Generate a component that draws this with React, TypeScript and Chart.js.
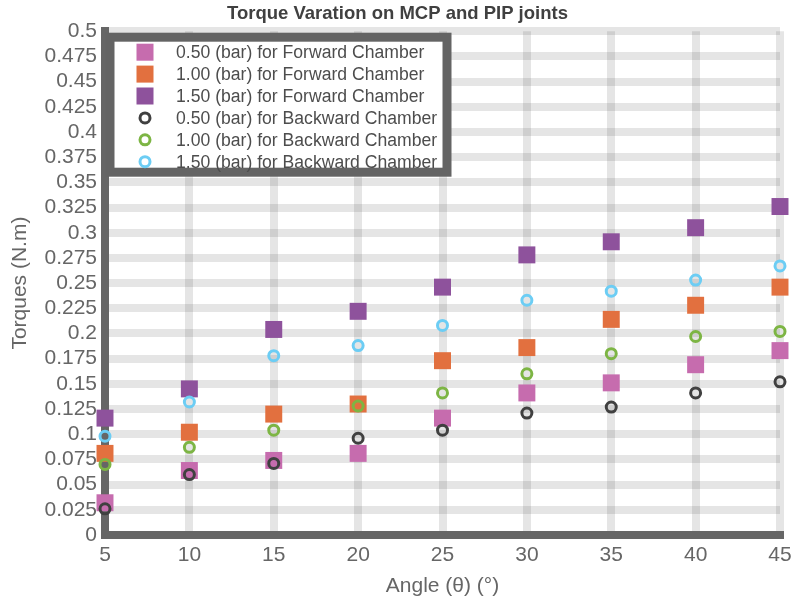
import React, { useEffect, useRef } from "react";
import { Chart, registerables } from "chart.js";

Chart.register(...registerables);

const angles = [5, 10, 15, 20, 25, 30, 35, 40, 45];
const fwd050 = [0.032, 0.064, 0.074, 0.081, 0.116, 0.141, 0.151, 0.169, 0.183];
const fwd100 = [0.081, 0.102, 0.12, 0.13, 0.173, 0.186, 0.214, 0.228, 0.246];
const fwd150 = [0.116, 0.145, 0.204, 0.222, 0.246, 0.278, 0.291, 0.305, 0.326];
const bwd050 = [0.026, 0.06, 0.071, 0.096, 0.104, 0.121, 0.127, 0.141, 0.152];
const bwd100 = [0.07, 0.087, 0.104, 0.128, 0.141, 0.16, 0.18, 0.197, 0.202];
const bwd150 = [0.098, 0.132, 0.178, 0.188, 0.208, 0.233, 0.242, 0.253, 0.267];

const seriesLabels = [
  "0.50 (bar) for Forward Chamber",
  "1.00 (bar) for Forward Chamber",
  "1.50 (bar) for Forward Chamber",
  "0.50 (bar) for Backward Chamber",
  "1.00 (bar) for Backward Chamber",
  "1.50 (bar) for Backward Chamber",
];
const xTickLabels = ["5", "10", "15", "20", "25", "30", "35", "40", "45"];
const yTickLabels = [
  "0", "0.025", "0.05", "0.075", "0.1", "0.125", "0.15", "0.175", "0.2", "0.225",
  "0.25", "0.275", "0.3", "0.325", "0.35", "0.375", "0.4", "0.425", "0.45", "0.475", "0.5",
];

const FONT = "'Liberation Sans', Arial, Helvetica, sans-serif";

const legendBoxPlugin = {
  id: "legendBox",
  afterDraw(chart: any) {
    const ctx = chart.ctx;
    const ca = chart.chartArea;
    const x0 = ca.left + 5;
    const y0 = ca.top + 6;
    const w = 337;
    const h = 135;
    ctx.save();
    ctx.fillStyle = "#ffffff";
    ctx.fillRect(x0, y0, w, h);
    ctx.lineWidth = 9;
    ctx.strokeStyle = "#646464";
    ctx.strokeRect(x0, y0, w, h);
    ctx.font = `17.6px ${FONT}`;
    ctx.textBaseline = "middle";
    ctx.textAlign = "left";
    chart.data.datasets.forEach((ds: any, i: number) => {
      const cy = y0 + 15 + i * 21.9;
      const cx = x0 + 35;
      if (ds.pointStyle === "rect") {
        ctx.fillStyle = ds.backgroundColor;
        ctx.fillRect(cx - 8.5, cy - 8.5, 17, 17);
      } else {
        ctx.beginPath();
        ctx.arc(cx, cy, ds.pointRadius, 0, Math.PI * 2);
        ctx.lineWidth = ds.borderWidth;
        ctx.strokeStyle = ds.borderColor;
        ctx.stroke();
      }
      ctx.fillStyle = "#4d4d4d";
      ctx.fillText(ds.label, x0 + 66, cy + 1);
    });
    ctx.restore();
  },
};

function pts(ys: number[]) {
  return angles.map((x, i) => ({ x, y: ys[i] }));
}

export default function App() {
  const ref = useRef<HTMLCanvasElement | null>(null);
  useEffect(() => {
    if (!ref.current) return;
    const sq = (label: string, ys: number[], color: string) => ({
      label,
      data: pts(ys),
      pointStyle: "rect",
      pointRadius: 12,
      pointHoverRadius: 12,
      backgroundColor: color,
      borderColor: color,
      borderWidth: 0,
      showLine: false,
      clip: false,
      order: 1,
    });
    const ring = (label: string, ys: number[], color: string) => ({
      label,
      data: pts(ys),
      pointStyle: "circle",
      pointRadius: 5,
      pointHoverRadius: 5,
      backgroundColor: "rgba(0,0,0,0)",
      borderColor: color,
      borderWidth: 3,
      showLine: false,
      clip: false,
      order: 0,
    });
    const chart = new Chart(ref.current, {
      type: "scatter",
      data: {
        datasets: [
          sq(seriesLabels[0], fwd050, "#c66cae"),
          sq(seriesLabels[1], fwd100, "#e2703f"),
          sq(seriesLabels[2], fwd150, "#8e529c"),
          ring(seriesLabels[3], bwd050, "#404040"),
          ring(seriesLabels[4], bwd100, "#7db544"),
          ring(seriesLabels[5], bwd150, "#6ccdf4"),
        ] as any,
      },
      options: {
        responsive: false,
        animation: false,
        layout: { padding: { left: 0, right: 0, top: 0, bottom: 0 } },
        plugins: {
          legend: { display: false },
          tooltip: { enabled: false },
          title: {
            display: true,
            text: "Torque Varation on MCP and PIP joints",
            color: "#404040",
            font: { family: FONT, size: 18.5, weight: "bold" },
            padding: { top: 3, bottom: 6 },
          },
        },
        scales: {
          x: {
            type: "linear",
            min: 5,
            max: 45,
            ticks: {
              stepSize: 5,
              autoSkip: false,
              color: "#666666",
              padding: 8,
              font: { family: FONT, size: 21 },
              callback: (_v: any, i: number) => xTickLabels[i],
            },
            grid: { color: "rgba(0,0,0,0.1)", lineWidth: 8, drawTicks: false },
            border: { color: "#666666", width: 8 },
            title: {
              display: true,
              text: "Angle (θ) (°)",
              color: "#666666",
              font: { family: FONT, size: 21 },
              padding: { top: 0, bottom: 4 },
            },
            afterFit: (s: any) => {
              s.height = 68;
              s.paddingRight = 15;
            },
          },
          y: {
            type: "linear",
            min: 0,
            max: 0.5,
            ticks: {
              stepSize: 0.025,
              autoSkip: false,
              color: "#666666",
              padding: 8,
              font: { family: FONT, size: 21 },
              callback: (_v: any, i: number) => yTickLabels[i],
            },
            grid: { color: "rgba(0,0,0,0.1)", lineWidth: 8, drawTicks: false },
            border: { color: "#666666", width: 8 },
            title: {
              display: true,
              text: "Torques (N.m)",
              color: "#666666",
              font: { family: FONT, size: 21 },
              padding: { top: 8, bottom: 0 },
            },
            afterFit: (s: any) => {
              s.width = 105;
            },
          },
        },
      } as any,
      plugins: [legendBoxPlugin],
    });
    return () => chart.destroy();
  }, []);
  return (
    <canvas
      ref={ref}
      width={795}
      height={603}
      style={{ position: "fixed", left: 0, top: 0, display: "block" }}
    />
  );
}
